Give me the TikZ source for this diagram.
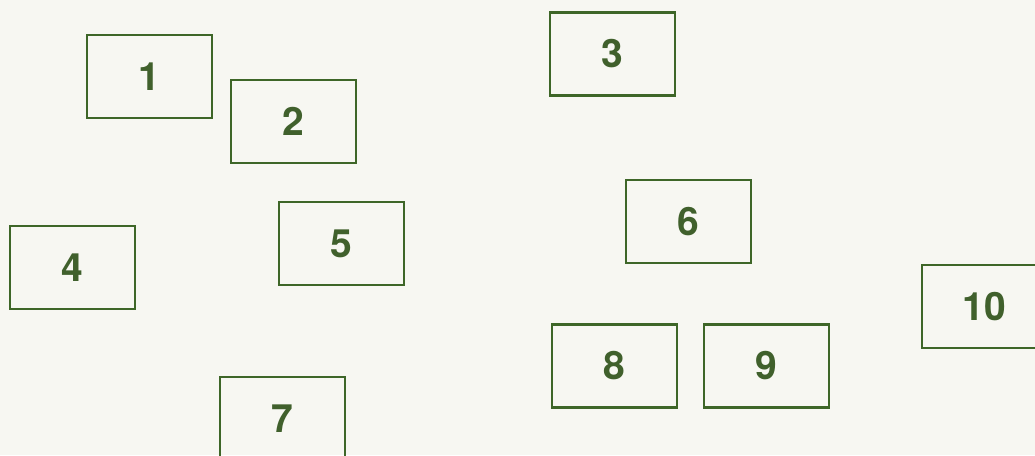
\documentclass[tikz,border=0pt]{standalone}
\usepackage{fontspec}
\setmainfont{TeX Gyre Heros}
\definecolor{paper}{RGB}{247,247,242}
\definecolor{boxgreen}{RGB}{62,102,40}
\definecolor{numgreen}{RGB}{64,96,44}
\tikzset{
  numbox/.style={draw=boxgreen, line width=2.4pt, fill=none, minimum width=125pt, minimum height=83pt, inner sep=0pt, text=numgreen, font=\bfseries\fontsize{39}{39}\selectfont, anchor=center}
}
\begin{document}
\begin{tikzpicture}[x=1pt,y=-1pt]
\fill[paper] (0,0) rectangle (1035,455);
\useasboundingbox (0,0) rectangle (1035,455);
\clip (0,0) rectangle (1035,455);
\node[numbox] (n1) at (149.5,76.5) {1};
\node[numbox] (n2) at (293.5,121.5) {2};
\node[numbox] (n3) at (612.5,54) {3};
\node[numbox] (n4) at (72.5,267.5) {4};
\node[numbox] (n5) at (341.5,243.5) {5};
\node[numbox] (n6) at (688.5,221.5) {6};
\node[numbox] (n7) at (282.5,418.5) {7};
\node[numbox] (n8) at (614.5,366) {8};
\node[numbox] (n9) at (766.5,366) {9};
\node[numbox] (n10) at (984.5,306.5) {10};
\end{tikzpicture}
\end{document}
